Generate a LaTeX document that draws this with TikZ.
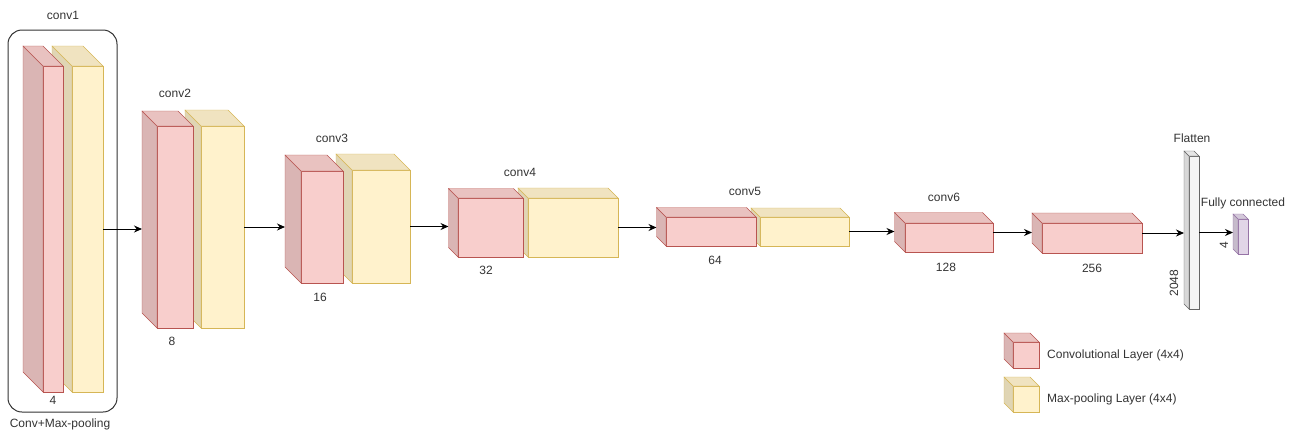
\documentclass[tikz,border=0pt]{standalone}
\usepackage{fontspec}
\setmainfont{Liberation Sans}
\usetikzlibrary{positioning}
\usetikzlibrary{arrows.meta}

\definecolor{convfill}{HTML}{F8CECC}
\definecolor{convline}{HTML}{B85450}
\definecolor{poolfill}{HTML}{FFF2CC}
\definecolor{poolline}{HTML}{D6B656}
\definecolor{flatfill}{HTML}{F5F5F5}
\definecolor{flatline}{HTML}{666666}
\definecolor{fcfill}{HTML}{E1D5E7}
\definecolor{fcline}{HTML}{9673A6}
\definecolor{txt}{HTML}{333333}

% cuboid: #1 name, #2 colour prefix, #3-#6 front face (x1,y1,x2,y2), #7 depth
\newcommand{\layer}[7]{%
  \node[layer, draw=#2line, fill=#2fill, minimum width={(#5-#3)*1pt}, minimum height={(#6-#4)*1pt}] (#1) at ({(#3+#5)/2},{(#4+#6)/2}) {};
  \filldraw[draw=#2line, fill=#2fill!88!black] (#1.north west) -- ++(-#7,-#7) -- ([shift={(-#7,-#7)}]#1.south west) -- (#1.south west) -- cycle;
  \filldraw[draw=#2line, fill=#2fill!94!black] (#1.north west) -- ++(-#7,-#7) -- ([shift={(-#7,-#7)}]#1.north east) -- (#1.north east) -- cycle;
  \coordinate (#1in) at ([xshift=-#7pt]#1.west);
}

\begin{document}
\begin{tikzpicture}[x=1pt, y=-1pt,
    layer/.style = {inner sep=0, outer sep=0, line width=1pt},
    lbl/.style = {text=txt, font=\fontsize{12}{14}\selectfont, inner sep=0},
    arrow/.style = {line width=1pt, -{Stealth[length=8pt,width=7pt]}},
    groupbox/.style = {draw=black!80, line width=1pt, rounded corners=14pt, inner sep=0}]
  \useasboundingbox (0,0) rectangle (1291,432);

  % conv1 group
  \node[groupbox, minimum width=109pt, minimum height=382pt] (grp) at (62.5,221) {};
  \layer{p1}{pool}{72}{66}{103}{392}{20}
  \layer{c1}{conv}{43}{66}{63}{392}{20}
  \node[lbl] (c1name) at (63,15) {conv1};
  \node[lbl] (c1size) at (53,400) {4};
  \node[lbl] (grpname) at (60,424) {Conv+Max-pooling};

  % conv2 .. conv5 with pooling
  \layer{p2}{pool}{201}{126}{244}{328}{16}
  \layer{c2}{conv}{157}{126}{193}{328}{15}
  \node[lbl] (c2name) at (175,93) {conv2};
  \node[lbl] (c2size) at (172,341) {8};

  \layer{p3}{pool}{352}{170}{410}{283}{16}
  \layer{c3}{conv}{301}{171}{343}{283}{16}
  \node[lbl] (c3name) at (332,138) {conv3};
  \node[lbl] (c3size) at (320,297) {16};

  \layer{p4}{pool}{528}{198}{618}{257}{10}
  \layer{c4}{conv}{458}{198}{523}{257}{9.5}
  \node[lbl] (c4name) at (520,172) {conv4};
  \node[lbl] (c4size) at (486,270) {32};

  \layer{p5}{pool}{760}{217}{849}{246}{9}
  \layer{c5}{conv}{666}{217}{756}{246}{9.5}
  \node[lbl] (c5name) at (745,191) {conv5};
  \node[lbl] (c5size) at (715,260) {64};

  % conv6, 256, flatten, fully connected
  \layer{c6}{conv}{905}{223}{993}{252}{10.5}
  \node[lbl] (c6name) at (944,197) {conv6};
  \node[lbl] (c6size) at (946,267) {128};

  \layer{c7}{conv}{1042}{223}{1142}{253}{10}
  \node[lbl] (c7size) at (1092,268) {256};

  \layer{flat}{flat}{1189}{156}{1199}{309}{5}
  \node[lbl] (flatname) at (1192,138) {Flatten};
  \node[lbl, rotate=90] (flatsize) at (1174,283) {2048};

  \layer{fc}{fc}{1238}{219}{1248}{254}{5}
  \node[lbl] (fcname) at (1243,203) {Fully connected};
  \node[lbl, rotate=90] (fcsize) at (1224,245) {4};

  % arrows
  \draw[arrow] (p1.east) -- (p1.east -| c2in);
  \draw[arrow] (p2.east) -- (p2.east -| c3in);
  \draw[arrow] (p3.east) -- (p3.east -| c4in);
  \draw[arrow] (p4.east) -- (p4.east -| c5in);
  \draw[arrow] (p5.east) -- (p5.east -| c6in);
  \draw[arrow] ([yshift=5pt]c6.east) coordinate (c6out) -- (c6out -| c7in);
  \draw[arrow] ([yshift=5pt]c7.east) coordinate (c7out) -- (c7out -| flatin);
  \draw[arrow] (flat.east) -- (flat.east -| fcin);

  % legend
  \layer{lgconv}{conv}{1013}{342}{1039}{368}{9}
  \layer{lgpool}{pool}{1013}{386}{1039}{412}{9}
  \node[lbl, right=8pt of lgconv] (lgconvtxt) {Convolutional Layer (4x4)};
  \node[lbl, right=8pt of lgpool] (lgpooltxt) {Max-pooling Layer (4x4)};
\end{tikzpicture}
\end{document}
